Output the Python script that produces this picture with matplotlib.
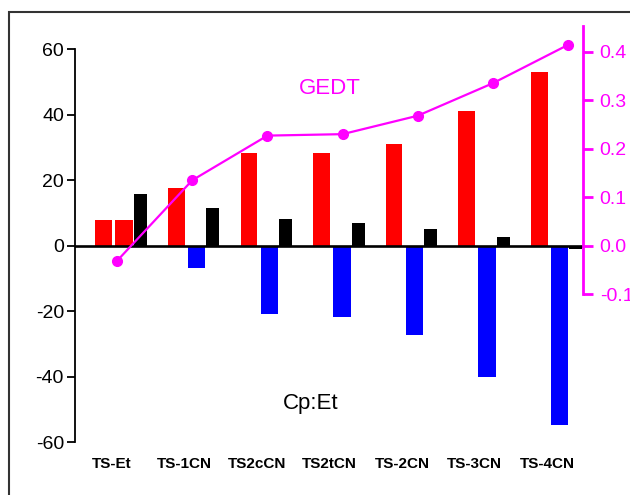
import matplotlib
matplotlib.use('Agg')
import matplotlib.pyplot as plt
from matplotlib.patches import Rectangle
import numpy as np

plt.rcParams['font.family'] = ['Liberation Sans', 'DejaVu Sans']
plt.rcParams['axes.unicode_minus'] = False

# transition states and the three bar series (left axis)
cats = ['TS-Et', 'TS-1CN', 'TS2cCN', 'TS2tCN', 'TS-2CN', 'TS-3CN', 'TS-4CN']
red_vals = [7.9, 17.7, 28.4, 28.2, 31.1, 41.2, 52.9]
blue_vals = [7.7, -6.9, -20.9, -21.7, -27.3, -40.2, -54.7]
black_vals = [15.8, 11.4, 8.1, 6.9, 5.0, 2.6, -1.0]
# charge transfer (right axis)
gedt = [-0.031, 0.135, 0.227, 0.230, 0.268, 0.335, 0.414]

RED = '#FF0000'
BLUE = '#0000FF'
MAG = '#FF00FF'

W, H = 630, 495
fig = plt.figure(figsize=(W / 100, H / 100), dpi=100)

# axes box in pixels: left spine x=75, right spine x=583, top y=26, bottom y=443
left, right, top, bottom = 75, 583, 26, 443
rect = [left / W, 1 - bottom / H, (right - left) / W, (bottom - top) / H]

ax = fig.add_axes(rect)
x = np.arange(len(cats))
ax.bar(x - 0.25, red_vals, width=0.227, color=RED, zorder=2)
ax.bar(x + 0.031, blue_vals, width=0.238,
       color=[RED if v > 0 else BLUE for v in blue_vals], zorder=2)
ax.bar(x + 0.253, black_vals, width=0.179, color='black', zorder=2)
ax.axhline(0, color='black', lw=1.9, zorder=3)

ax.set_xlim(-0.645, 6.352)
ax.set_ylim(-60.24, 67.08)
ax.set_yticks([-60, -40, -20, 0, 20, 40, 60])
ax.spines['left'].set_bounds(-60, 60)
ax.spines['left'].set_linewidth(1.3)
for s in ['top', 'right', 'bottom']:
    ax.spines[s].set_visible(False)
ax.tick_params(axis='y', direction='out', length=6, width=1.3, pad=2,
               labelsize=14)
ax.set_xticks(x - 0.14)
ax.set_xticklabels(cats, fontweight='bold', fontsize=11)
ax.tick_params(axis='x', length=0, pad=10)
ax.patch.set_visible(False)

# GEDT line on its own axes with the magenta right spine
ax2 = fig.add_axes(rect)
ax2.plot(np.arange(len(gedt)), gedt, color=MAG, lw=1.6, marker='o',
         markersize=7, clip_on=False, zorder=4)
ax2.set_xlim(-0.561, 6.200)
ax2.set_ylim(-0.4068, 0.453)
ax2.patch.set_visible(False)
ax2.xaxis.set_visible(False)
for s in ['top', 'left', 'bottom']:
    ax2.spines[s].set_visible(False)
ax2.spines['right'].set_color(MAG)
ax2.spines['right'].set_linewidth(2)
ax2.spines['right'].set_bounds(-0.1, 0.453)
ax2.yaxis.tick_right()
ax2.set_yticks([-0.1, 0.0, 0.1, 0.2, 0.3, 0.4])
ax2.set_yticklabels(['-0.1', '0.0', '0.1', '0.2', '0.3', '0.4'])
ax2.tick_params(axis='y', colors=MAG, direction='out', length=7, width=2,
                pad=5, labelsize=14)

fig.text(330 / W, 1 - 88 / H, 'GEDT', color=MAG, fontsize=16,
         ha='center', va='center')
fig.text(311 / W, 1 - 403 / H, 'Cp:Et', color='black', fontsize=16,
         ha='center', va='center')

# outer frame, running past the right and bottom edges
fig.add_artist(Rectangle((9 / W, -0.1), 1.0, (H - 12) / H + 0.1,
                         transform=fig.transFigure, fill=False,
                         ec='#333333', lw=1.5))

fig.savefig('out.png', dpi=100)
